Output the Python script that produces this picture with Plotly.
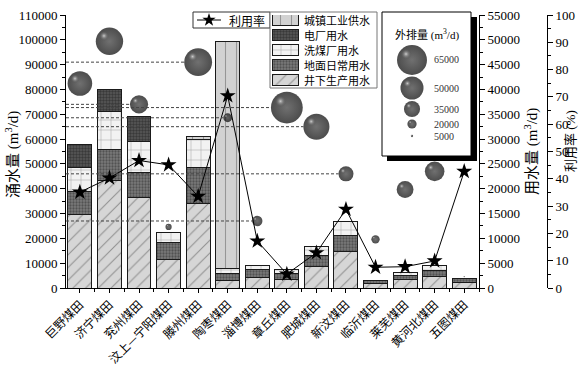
import numpy as np
import plotly.graph_objects as go

# ---- data -------------------------------------------------------------
fields = ["巨野煤田", "济宁煤田", "兖州煤田", "汶上—宁阳煤田", "滕州煤田", "陶枣煤田", "淄博煤田",
          "章丘煤田", "肥城煤田", "新汶煤田", "临沂煤田", "莱芜煤田", "黄河北煤田", "五图煤田"]

# water use by purpose (m3/d), plotted against the 用水量 axis
underground = [14850, 21650, 18300, 5750, 17000, 1600, 2100, 1750, 4250, 7300, 850, 1800, 2300, 1050]  # 井下生产用水
surface = [4500, 6200, 5050, 3350, 7350, 1250, 1650, 1250, 2350, 3350, 650, 800, 1200, 900]            # 地面日常用水
washing = [5000, 7800, 6150, 2000, 5550, 1000, 750, 800, 1800, 2650, 0, 450, 950, 0]                   # 洗煤厂用水
power = [4650, 4350, 5000, 0, 0, 0, 0, 0, 0, 0, 0, 0, 0, 0]                                            # 电厂用水
urban = [0, 0, 0, 0, 650, 45750, 0, 0, 0, 0, 0, 0, 0, 0]                                               # 城镇工业供水

inflow = [82400, 99400, 74000, 24600, 91000, 68600, 27000, 72700, 65000, 46000, 19600, 39700, 47000, 4600]      # 涌水量
discharge = [53400, 59400, 39500, 13500, 60400, 19100, 22500, 69000, 56600, 32700, 18100, 36500, 42500, 2600]  # 外排量
utilization = [35.1, 40.3, 46.7, 45.1, 33.6, 70.4, 17.2, 5.1, 12.9, 28.8, 7.6, 7.8, 9.9, 42.7]                # 利用率 %

guide_fields = ["滕州煤田", "兖州煤田", "章丘煤田", "陶枣煤田", "肥城煤田", "新汶煤田", "淄博煤田"]
legend_discharge = [65000, 50000, 35000, 20000, 5000]

# ---- geometry ---------------------------------------------------------
W, H = 579, 372
L, R, T, B = 66, 100, 15, 84
PX0, PX1 = L, W - R
PY0, PY1 = T, H - B
XR = [-0.47, 13.5]
Y_INFLOW = [0, 110000]
SIZE_REF = 2170  # m3/d per pixel of bubble diameter

x_per_px = (XR[1] - XR[0]) / (PX1 - PX0)
y2_per_px = (Y_INFLOW[1] - Y_INFLOW[0]) / (PY1 - PY0)


def paper_x(px):
    return (px - PX0) / (PX1 - PX0)


def paper_y(py):
    return (PY1 - py) / (PY1 - PY0)


CJK = "Noto Sans CJK SC"
SERIF = "Liberation Serif, Noto Sans CJK SC"

series = [
    ("井下生产用水", underground, dict(shape="/", bgcolor="#d6d6d6", fgcolor="#4a4a4a", size=9, solidity=0.12)),
    ("地面日常用水", surface, dict(shape=".", bgcolor="#7a7a7a", fgcolor="#2a2a2a", size=3, solidity=0.45)),
    ("洗煤厂用水", washing, dict(shape="+", bgcolor="#f2f2f2", fgcolor="#555555", size=10, solidity=0.1)),
    ("电厂用水", power, dict(shape=".", bgcolor="#585858", fgcolor="#1a1a1a", size=3, solidity=0.5)),
    ("城镇工业供水", urban, dict(shape="|", bgcolor="#d2d2d2", fgcolor="#5a5a5a", size=11, solidity=0.1)),
]

fig = go.Figure()
xpos = np.arange(len(fields))

# stacked water-use bars
for name, vals, pat in series:
    fig.add_trace(go.Bar(
        x=xpos, y=vals, width=0.81, name=name, xaxis="x", yaxis="y",
        marker=dict(color=pat["bgcolor"], pattern=pat, line=dict(color="#1a1a1a", width=1)),
        showlegend=False, hoverinfo="skip"))


def spheres(xs, ys, diam, xaxis, yaxis, dxpp, dypp):
    """Shaded balls: dark radial body plus an offset soft highlight."""
    xs = np.asarray(xs, dtype=float)
    ys = np.asarray(ys, dtype=float)
    diam = np.asarray(diam, dtype=float)
    # radial gradient: marker.color is the rim, gradient.color the centre
    fig.add_trace(go.Scatter(
        x=xs, y=ys, mode="markers", xaxis=xaxis, yaxis=yaxis, cliponaxis=False,
        marker=dict(size=diam, color="#000000", gradient=dict(type="radial", color="#333333"),
                    line=dict(width=0)),
        showlegend=False, hoverinfo="skip"))
    off = 0.2 * diam
    fig.add_trace(go.Scatter(
        x=xs - off * dxpp, y=ys + off * dypp, mode="markers", xaxis=xaxis, yaxis=yaxis, cliponaxis=False,
        marker=dict(size=0.38 * diam, color="rgba(60,60,60,0)",
                    gradient=dict(type="radial", color="rgba(255,255,255,1)"), line=dict(width=0)),
        showlegend=False, hoverinfo="skip"))


# inflow bubbles sized by discharge
diam = np.array(discharge) / SIZE_REF
spheres(xpos, inflow, diam, "x", "y2", x_per_px, y2_per_px)

# dashed guides from the inflow axis to selected bubbles
shapes = []
for f in guide_fields:
    i = fields.index(f)
    shapes.append(dict(type="line", xref="x", yref="y2", x0=XR[0], x1=i - diam[i] / 2 * x_per_px,
                       y0=inflow[i], y1=inflow[i], layer="above",
                       line=dict(color="#444444", width=1, dash="3px,2px")))

# utilization line
fig.add_trace(go.Scatter(
    x=xpos, y=utilization, mode="lines+markers", xaxis="x", yaxis="y3", name="利用率",
    line=dict(color="black", width=1), marker=dict(symbol="star", size=12, color="black"),
    showlegend=False, hoverinfo="skip"))

annotations = []
LEG_FONT = 11

# ---- legend: utilization ----
shapes.append(dict(type="rect", xref="paper", yref="paper", x0=paper_x(193), x1=paper_x(270),
                   y0=paper_y(28), y1=paper_y(12), line=dict(color="#333333", width=1),
                   fillcolor="white", layer="below"))
fig.add_trace(go.Scatter(x=[197, 221], y=[20, 20], mode="lines", xaxis="x2", yaxis="y4",
                         line=dict(color="black", width=1), cliponaxis=False,
                         showlegend=False, hoverinfo="skip"))
fig.add_trace(go.Scatter(x=[209], y=[20], mode="markers", xaxis="x2", yaxis="y4",
                         marker=dict(symbol="star", size=10, color="black"), cliponaxis=False,
                         showlegend=False, hoverinfo="skip"))
annotations.append(dict(text="利用率", xref="paper", yref="paper", x=paper_x(227), y=paper_y(20),
                        xanchor="left", yanchor="middle", showarrow=False,
                        font=dict(family=CJK, size=LEG_FONT + 1)))

# ---- legend: water use ----
shapes.append(dict(type="rect", xref="paper", yref="paper", x0=paper_x(270), x1=paper_x(377),
                   y0=paper_y(88), y1=paper_y(12), line=dict(color="#777777", width=1),
                   fillcolor="white", layer="below"))
for k, (name, vals, pat) in enumerate(reversed(series)):
    cy = 20 + 15 * k
    fig.add_trace(go.Bar(
        x=[26], y=[cy], base=[272], width=[11], orientation="h", xaxis="x2", yaxis="y4",
        marker=dict(color=pat["bgcolor"], pattern=pat, line=dict(color="#1a1a1a", width=1)),
        cliponaxis=False, showlegend=False, hoverinfo="skip"))
    annotations.append(dict(text=name, xref="paper", yref="paper", x=paper_x(302), y=paper_y(cy),
                            xanchor="left", yanchor="middle", showarrow=False,
                            font=dict(family=CJK, size=LEG_FONT)))

# ---- legend: discharge bubble sizes ----
shapes.append(dict(type="rect", xref="paper", yref="paper", x0=paper_x(387), x1=paper_x(477),
                   y0=paper_y(161), y1=paper_y(17), line=dict(width=0), fillcolor="black", layer="below"))
shapes.append(dict(type="rect", xref="paper", yref="paper", x0=paper_x(382), x1=paper_x(471),
                   y0=paper_y(156), y1=paper_y(12), line=dict(color="black", width=1),
                   fillcolor="white", layer="below"))
annotations.append(dict(text="外排量 (m<sup>3</sup>/d)", xref="paper", yref="paper", x=paper_x(427),
                        y=paper_y(35), xanchor="center", yanchor="middle", showarrow=False,
                        font=dict(family=SERIF, size=11)))
leg_y = [60, 88, 109, 124, 136]
spheres([412] * len(legend_discharge), leg_y, np.maximum(np.array(legend_discharge) / SIZE_REF, 1.5),
        "x2", "y4", 1, -1)
for v, cy in zip(legend_discharge, leg_y):
    annotations.append(dict(text=str(v), xref="paper", yref="paper", x=paper_x(432), y=paper_y(cy),
                            xanchor="left", yanchor="middle", showarrow=False,
                            font=dict(family="Liberation Serif", size=10, color="#333333")))

# ---- axis titles ----
annotations.append(dict(text="涌水量 (m<sup>3</sup>/d)", xref="paper", yref="paper", x=paper_x(12),
                        y=paper_y(155), textangle=-90, showarrow=False, xanchor="center", yanchor="middle",
                        font=dict(family=SERIF, size=15)))
annotations.append(dict(text="用水量 (m<sup>3</sup>/d)", xref="paper", yref="paper", x=paper_x(531),
                        y=paper_y(152), textangle=-90, showarrow=False, xanchor="center", yanchor="middle",
                        font=dict(family=SERIF, size=15)))
annotations.append(dict(text="利用率 (%)", xref="paper", yref="paper", x=paper_x(570),
                        y=paper_y(141), textangle=-90, showarrow=False, xanchor="center", yanchor="middle",
                        font=dict(family=SERIF, size=13)))

axis_common = dict(ticks="outside", ticklen=5, tickwidth=1, tickcolor="black", showline=True,
                   linecolor="black", linewidth=1, showgrid=False, zeroline=False, automargin=False,
                   tickfont=dict(family="Liberation Serif", size=13, color="black"))

fig.update_layout(
    width=W, height=H, margin=dict(l=L, r=R, t=T, b=B),
    plot_bgcolor="white", paper_bgcolor="white", barmode="stack", showlegend=False,
    font=dict(family=SERIF, size=13, color="black"),
    xaxis=dict(range=XR, tickmode="array", tickvals=xpos, ticktext=fields, tickangle=-45,
               ticks="outside", ticklen=4, tickcolor="black", showline=True, linecolor="black",
               linewidth=1, showgrid=False, zeroline=False, automargin=False,
               tickfont=dict(family=CJK, size=12, color="black"),
               minor=dict(tick0=0.5, dtick=1, ticks="outside", ticklen=3, tickcolor="black", showgrid=False)),
    yaxis=dict(side="right", anchor="x", range=[0, 55000], dtick=5000, tickformat="d",
               minor=dict(dtick=2500, ticks="outside", ticklen=3, tickcolor="black", showgrid=False),
               **axis_common),
    yaxis2=dict(side="left", anchor="x", overlaying="y", range=Y_INFLOW, dtick=10000, tickformat="d",
                minor=dict(dtick=5000, ticks="outside", ticklen=3, tickcolor="black", showgrid=False),
                **axis_common),
    yaxis3=dict(side="right", anchor="free", overlaying="y", position=1, autoshift=False, shift=68,
                range=[0, 100], dtick=10,
                minor=dict(dtick=5, ticks="outside", ticklen=3, tickcolor="black", showgrid=False),
                **axis_common),
    xaxis2=dict(overlaying="x", anchor="y4", range=[PX0, PX1], visible=False),
    yaxis4=dict(overlaying="y", anchor="x2", range=[PY1, PY0], visible=False),
    shapes=shapes, annotations=annotations,
)

fig.write_html("out.html")
